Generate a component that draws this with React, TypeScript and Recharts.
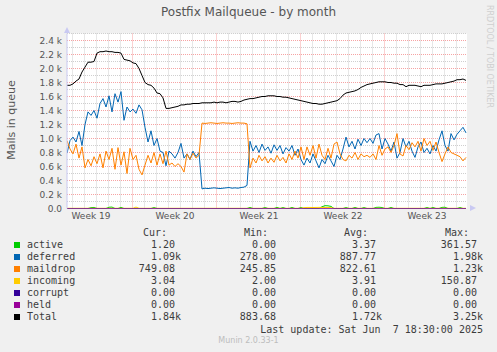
import React from "react";
import {
  ComposedChart,
  Line,
  XAxis,
  YAxis,
  ReferenceLine,
  ReferenceArea,
} from "recharts";

// samples every 6 hours (0.25 day), 134 points across the 33.3-day window
const STEP_DAYS = 0.25;

const total = [
  1760, 1760, 1780, 1820, 1850, 1950, 2020, 2090, 2090, 2100,
  2220, 2240, 2240, 2250, 2240, 2240, 2230, 2230, 2220, 2130,
  2120, 2110, 2080, 2070, 2000, 1900, 1800, 1770, 1760, 1720,
  1650, 1640, 1580, 1430, 1430, 1440, 1450, 1460, 1480, 1480,
  1490, 1490, 1500, 1500, 1500, 1510, 1510, 1510, 1510, 1520,
  1510, 1520, 1520, 1510, 1520, 1530, 1530, 1520, 1530, 1550,
  1560, 1570, 1570, 1580, 1590, 1600, 1600, 1610, 1610, 1610,
  1600, 1600, 1590, 1590, 1580, 1570, 1560, 1550, 1540, 1530,
  1520, 1510, 1500, 1500, 1490, 1490, 1500, 1510, 1520, 1530,
  1540, 1570, 1620, 1650, 1660, 1670, 1680, 1700, 1730, 1750,
  1770, 1780, 1790, 1800, 1810, 1810, 1810, 1800, 1800, 1790,
  1790, 1770, 1770, 1740, 1760, 1760, 1760, 1750, 1740, 1760,
  1760, 1760, 1770, 1780, 1780, 1780, 1790, 1800, 1810, 1820,
  1840, 1840, 1850, 1830,
];

const deferred = [
  790, 970, 1020, 950, 1100, 900, 1200, 1380, 1330, 1400,
  1290, 1500, 1570, 1450, 1610, 1380, 1640, 1520, 1670, 1260,
  1450, 1380, 1420, 1360, 1480, 1410, 1160, 950, 1110, 900,
  1000, 820, 800, 610, 820, 780, 720, 800, 930, 720,
  780, 700, 820, 740, 800, 280, 290, 285, 290, 295,
  290, 285, 290, 295, 300, 290, 295, 290, 300, 305,
  330, 960, 820, 900, 800, 920, 830, 880, 790, 910,
  830, 900, 780, 870, 820, 900, 760, 850, 700, 620,
  720, 650, 780, 680, 580, 700, 640, 760, 680, 600,
  760, 700, 850, 1020, 880, 960, 850, 990, 900, 1000,
  940, 1000, 930, 1050, 1070, 850, 1000, 920, 820, 950,
  720, 800, 1000, 880, 960, 820, 730, 880, 950, 800,
  860, 780, 900, 820, 980, 1110, 900, 820, 1070, 980,
  1060, 1110, 1160, 1080,
];

const maildrop = [
  970, 850, 780, 920, 720, 880, 580, 700, 610, 740,
  640, 780, 580, 820, 700, 860, 560, 870, 620, 810,
  500, 860, 700, 760, 560, 480, 620, 760, 650, 800,
  620, 780, 640, 820, 620, 650, 600, 640, 600, 520,
  780, 700, 790, 720, 760, 1220, 1215, 1220, 1225, 1220,
  1215, 1220, 1225, 1220, 1220, 1215, 1220, 1225, 1220, 1220,
  1210, 580, 720, 650, 760, 680, 740, 650, 720, 660,
  760, 680, 730, 650, 780, 700, 820, 720, 880, 700,
  880, 760, 900, 720, 920, 760, 700, 860, 720, 920,
  950, 780, 700, 680, 760, 720, 800, 700, 780, 740,
  760, 730, 780, 700, 900, 760, 850, 880, 800, 900,
  1070, 780, 750, 900, 840, 940, 880, 960, 820, 1000,
  900, 960, 830, 950, 800, 670, 780, 880, 800, 780,
  760, 740, 680, 730,
];

const active = [
  0, 0, 0, 0, 0, 0, 0, 0, 12, 15,
  0, 0, 0, 0, 18, 20, 0, 0, 16, 0,
  0, 0, 0, 0, 0, 0, 0, 0, 0, 14,
  0, 0, 0, 0, 0, 0, 0, 0, 0, 0,
  0, 0, 0, 0, 0, 0, 0, 0, 0, 0,
  0, 0, 0, 0, 0, 0, 0, 0, 0, 0,
  0, 15, 0, 0, 0, 0, 14, 0, 0, 0,
  16, 0, 14, 0, 0, 15, 0, 0, 14, 0,
  0, 0, 0, 0, 0, 25, 40, 38, 30, 0,
  0, 0, 0, 14, 0, 0, 15, 0, 0, 14,
  0, 0, 0, 16, 18, 14, 0, 0, 15, 0,
  0, 0, 0, 0, 0, 0, 0, 0, 0, 0,
  14, 0, 15, 0, 0, 16, 18, 0, 0, 0,
  0, 14, 0, 0,
];

const incoming = [
  3, 3, 3, 3, 3, 3, 3, 3, 3, 3,
  3, 3, 3, 3, 3, 3, 3, 3, 3, 3,
  3, 3, 3, 20, 3, 3, 3, 3, 3, 3,
  3, 3, 3, 3, 3, 3, 3, 3, 3, 3,
  3, 3, 3, 3, 3, 3, 3, 3, 3, 3,
  3, 3, 3, 3, 3, 3, 3, 3, 3, 3,
  3, 3, 3, 3, 3, 3, 3, 3, 3, 3,
  3, 3, 3, 3, 3, 3, 3, 3, 3, 12,
  15, 15, 14, 15, 16, 15, 14, 15, 12, 3,
  3, 3, 3, 3, 3, 3, 3, 3, 3, 3,
  3, 3, 3, 3, 3, 3, 3, 3, 3, 3,
  3, 3, 3, 3, 3, 3, 3, 3, 3, 3,
  3, 3, 3, 3, 3, 3, 3, 3, 3, 3,
  3, 3, 3, 3,
];

const corrupt = [
  0, 0, 0, 0, 0, 0, 0, 0, 0, 0, 0, 0, 0, 0, 0, 0, 0, 0, 0, 0,
  0, 0, 0, 0, 0, 0, 0, 0, 0, 0, 0, 0, 0, 0, 0, 0, 0, 0, 0, 0,
  0, 0, 0, 0, 0, 0, 0, 0, 0, 0, 0, 0, 0, 0, 0, 0, 0, 0, 0, 0,
  0, 0, 0, 0, 0, 0, 0, 0, 0, 0, 0, 0, 0, 0, 0, 0, 0, 0, 0, 0,
  0, 0, 0, 0, 0, 0, 0, 0, 0, 0, 0, 0, 0, 0, 0, 0, 0, 0, 0, 0,
  0, 0, 0, 0, 0, 0, 0, 0, 0, 0, 0, 0, 0, 0, 0, 0, 0, 0, 0, 0,
  0, 0, 0, 0, 0, 0, 0, 0, 0, 0, 0, 0, 0, 0,
];

const held = [
  0, 0, 0, 0, 0, 0, 0, 0, 0, 0, 0, 0, 0, 0, 0, 0, 0, 0, 0, 0,
  0, 0, 0, 0, 0, 0, 0, 0, 0, 0, 0, 0, 0, 0, 0, 0, 0, 0, 0, 0,
  0, 0, 0, 0, 0, 0, 0, 0, 0, 0, 0, 0, 0, 0, 0, 0, 0, 0, 0, 0,
  0, 0, 0, 0, 0, 0, 0, 0, 0, 0, 0, 0, 0, 0, 0, 0, 0, 0, 0, 0,
  0, 0, 0, 0, 0, 0, 0, 0, 0, 0, 0, 0, 0, 0, 0, 0, 0, 0, 0, 0,
  0, 0, 0, 0, 0, 0, 0, 0, 0, 0, 0, 0, 0, 0, 0, 0, 0, 0, 0, 0,
  0, 0, 0, 0, 0, 0, 0, 0, 0, 0, 0, 0, 0, 0,
];

const weekTicks = [2, 9, 16, 23, 30];
const weekLabels = ["Week 19", "Week 20", "Week 21", "Week 22", "Week 23"];
const yTicks = [0, 200, 400, 600, 800, 1000, 1200, 1400, 1600, 1800, 2000, 2200, 2400];

const seriesKeys = ["active", "deferred", "maildrop", "incoming", "corrupt", "held", "total"];
const seriesNames = ["active", "deferred", "maildrop", "incoming", "corrupt", "held", "Total"];
const seriesColors = ["#00cc00", "#0066b3", "#ff8000", "#ffcc00", "#330099", "#990099", "#000000"];
const curCol = ["1.20 ", "1.09k", "749.08 ", "3.04 ", "0.00 ", "0.00 ", "1.84k"];
const minCol = ["0.00 ", "278.00 ", "245.85 ", "2.00 ", "0.00 ", "0.00 ", "883.68 "];
const avgCol = ["3.37 ", "887.77 ", "822.61 ", "3.91 ", "0.00 ", "0.00 ", "1.72k"];
const maxCol = ["361.57 ", "1.98k", "1.23k", "150.87 ", "0.00 ", "0.00 ", "3.25k"];

const data = total.map((_, i) => ({
  t: i * STEP_DAYS,
  active: active[i],
  deferred: deferred[i],
  maildrop: maildrop[i],
  incoming: incoming[i],
  corrupt: corrupt[i],
  held: held[i],
  total: total[i],
}));

const X_MAX = 400 / 12;
const DAY_OFFSET = 5.5 / 12;
const dayLines = Array.from({ length: 33 }, (_, k) => DAY_OFFSET + k);
const weekLines = [5, 12, 19, 26].map((k) => DAY_OFFSET + k);
const minorDays = dayLines.filter((d) => !weekLines.includes(d));
const minorY = [100, 300, 500, 700, 900, 1100, 1300, 1500, 1700, 1900, 2100, 2300, 2500];
const majorY = yTicks.slice(1);

const MINOR = "#cfcfcf";
const MAJOR = "#f6a3a3";
const AXIS = "#c9c9f2";
const mono = "'DejaVu Sans Mono', monospace";
const sans = "'DejaVu Sans', sans-serif";

const fmtY = (v: number) => (v === 0 ? "0.0" : `${(v / 1000).toFixed(1)} k`);

function Cell({ right, top, text }: { right: number; top: number; text: string }) {
  return (
    <span style={{ position: "absolute", right: 497 - right, top, whiteSpace: "pre" }}>
      {text}
    </span>
  );
}

export default function App() {
  return (
    <div
      style={{
        position: "absolute",
        left: 0,
        top: 0,
        width: 497,
        height: 352,
        background: "#f0f0f0",
        overflow: "hidden",
      }}
    >
      <div style={{ position: "absolute", left: 0, top: 0 }}>
        <ComposedChart
          width={497}
          height={352}
          data={data}
          margin={{ top: 33.5, right: 30, bottom: 123.5, left: 0 }}
        >
          <XAxis
            dataKey="t"
            type="number"
            domain={[0, X_MAX]}
            allowDataOverflow
            ticks={weekTicks}
            interval={0}
            tickFormatter={(_v, i) => weekLabels[i]}
            height={20}
            tickLine={false}
            axisLine={false}
            tickSize={2}
            tickMargin={2}
            tick={{ fill: "#555", fontSize: 9, fontFamily: sans }}
          />
          <YAxis
            type="number"
            domain={[0, 2500]}
            allowDataOverflow
            ticks={yTicks}
            interval={0}
            tickFormatter={fmtY}
            width={67}
            tickLine={false}
            axisLine={{ stroke: AXIS }}
            tickSize={3}
            tickMargin={2}
            tick={{ fill: "#555", fontSize: 9, fontFamily: sans }}
          />
          <ReferenceArea
            x1={0}
            x2={X_MAX}
            y1={0}
            y2={2500}
            fill="#ffffff"
            fillOpacity={1}
            stroke="none"
            zIndex={-60}
          />
          {minorY.map((v) => (
            <ReferenceLine key={`my${v}`} y={v} stroke={MINOR} strokeDasharray="1 1" zIndex={-50} />
          ))}
          {minorDays.map((d) => (
            <ReferenceLine key={`md${d}`} x={d} stroke={MINOR} strokeDasharray="1 1" zIndex={-50} />
          ))}
          {majorY.map((v) => (
            <ReferenceLine key={`My${v}`} y={v} stroke={MAJOR} strokeDasharray="1 1" zIndex={-40} />
          ))}
          {weekLines.map((d) => (
            <ReferenceLine key={`Mw${d}`} x={d} stroke={MAJOR} strokeDasharray="1 1" zIndex={-40} />
          ))}
          {seriesKeys.map((k, i) => (
            <Line
              key={k}
              dataKey={k}
              type="linear"
              stroke={seriesColors[i]}
              strokeWidth={1}
              dot={false}
              activeDot={false}
              isAnimationActive={false}
            />
          ))}
        </ComposedChart>
      </div>

      {/* axis arrows */}
      <svg width={497} height={352} style={{ position: "absolute", left: 0, top: 0, pointerEvents: "none" }}>
        <polygon points="64,33 70,33 67,27" fill={AXIS} />
        <polygon points="470,205 470,211 476,208" fill={AXIS} />
      </svg>

      <div
        style={{
          position: "absolute",
          left: 0,
          width: 497,
          top: 5,
          textAlign: "center",
          fontFamily: sans,
          fontSize: 12,
          color: "#555",
        }}
      >
        Postfix Mailqueue - by month
      </div>
      <div
        style={{
          position: "absolute",
          left: 10.5,
          top: 120,
          transform: "translate(-50%, -50%) rotate(-90deg)",
          whiteSpace: "nowrap",
          fontFamily: sans,
          fontSize: 11,
          color: "#555",
        }}
      >
        Mails in queue
      </div>
      <div
        style={{
          position: "absolute",
          left: 485,
          top: 5,
          writingMode: "vertical-rl",
          fontFamily: sans,
          fontSize: 8,
          lineHeight: "9px",
          color: "#cfcfcf",
          whiteSpace: "nowrap",
        }}
      >
        RRDTOOL / TOBI OETIKER
      </div>

      <div style={{ fontFamily: mono, fontSize: 10, lineHeight: "12px", color: "#3c3c3c" }}>
        <Cell right={167} top={227} text="Cur:" />
        <Cell right={268} top={227} text="Min:" />
        <Cell right={368} top={227} text="Avg:" />
        <Cell right={469} top={227} text="Max:" />
        {seriesNames.map((name, i) => {
          const top = 239 + i * 12;
          return (
            <React.Fragment key={name}>
              <span
                style={{
                  position: "absolute",
                  left: 14,
                  top: top + 3,
                  width: 6,
                  height: 6,
                  background: seriesColors[i],
                }}
              />
              <span style={{ position: "absolute", left: 27, top, whiteSpace: "pre" }}>{name}</span>
              <Cell right={181} top={top} text={curCol[i]} />
              <Cell right={282} top={top} text={minCol[i]} />
              <Cell right={382} top={top} text={avgCol[i]} />
              <Cell right={483} top={top} text={maxCol[i]} />
            </React.Fragment>
          );
        })}
        <Cell right={483} top={323.5} text="Last update: Sat Jun  7 18:30:00 2025" />
      </div>
      <div
        style={{
          position: "absolute",
          left: 0,
          width: 497,
          top: 336,
          textAlign: "center",
          fontFamily: sans,
          fontSize: 8,
          color: "#bdbdbd",
        }}
      >
        Munin 2.0.33-1
      </div>
    </div>
  );
}
